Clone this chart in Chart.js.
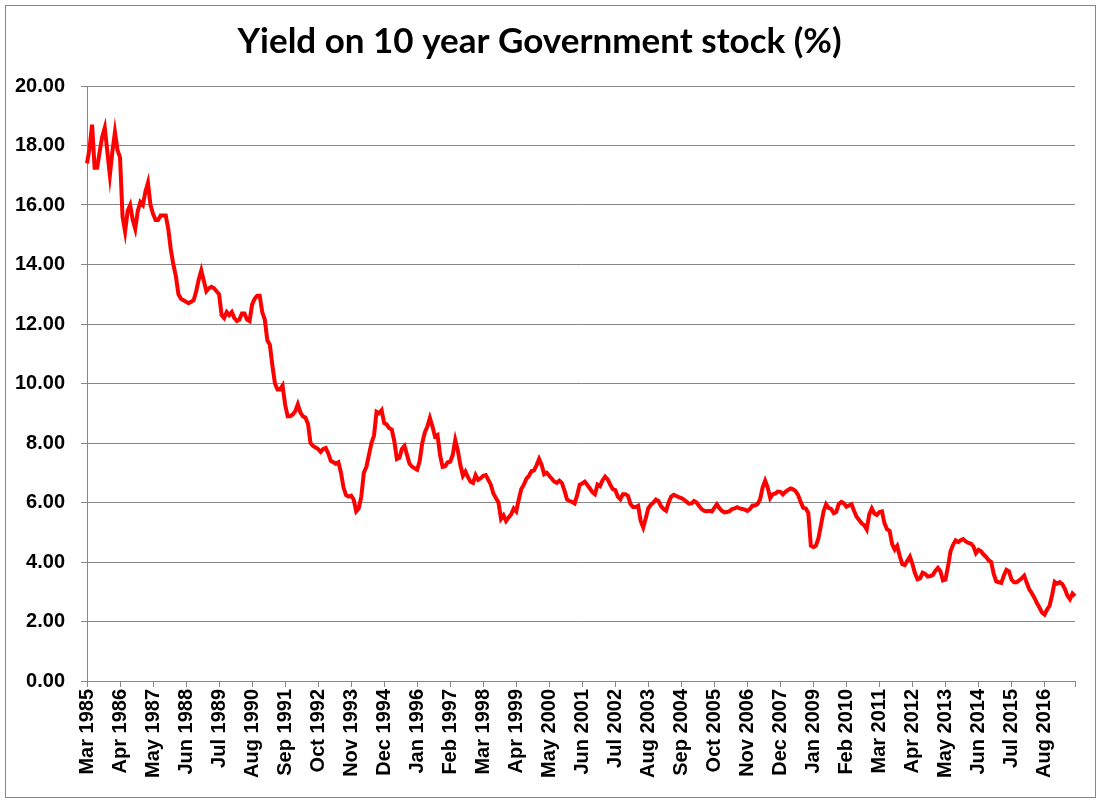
<!DOCTYPE html>
<html>
<head>
<meta charset="utf-8">
<title>Yield on 10 year Government stock (%)</title>
<script src="https://cdn.jsdelivr.net/npm/chart.js@4.4.1/dist/chart.umd.min.js"></script>
<style>
  html, body { margin: 0; padding: 0; background: #fff; }
  #chart { display: block; }
</style>
</head>
<body>
<canvas id="chart" width="1101" height="803"></canvas>
<script>
// Monthly series starting Mar 1985, one value per month
const START_YEAR = 1985;
const START_MONTH = 2; // March, 0-based
const MONTH_NAMES = ['Jan', 'Feb', 'Mar', 'Apr', 'May', 'Jun', 'Jul', 'Aug', 'Sep', 'Oct', 'Nov', 'Dec'];

const yields = [
  17.40, 17.90, 18.70, 17.25, 17.25, 17.80, 18.30, 18.60, 17.80, 17.00, // 0
  17.80, 18.45, 17.85, 17.60, 15.60, 15.10, 15.80, 16.00, 15.50, 15.20, // 10
  15.80, 16.10, 16.00, 16.45, 16.75, 16.00, 15.70, 15.50, 15.50, 15.65, // 20
  15.65, 15.65, 15.20, 14.50, 14.00, 13.60, 13.00, 12.85, 12.80, 12.75, // 30
  12.70, 12.75, 12.80, 13.10, 13.50, 13.80, 13.45, 13.10, 13.20, 13.25, // 40
  13.20, 13.10, 13.00, 12.30, 12.20, 12.40, 12.30, 12.40, 12.20, 12.10, // 50
  12.15, 12.35, 12.35, 12.15, 12.10, 12.65, 12.85, 12.95, 12.95, 12.40, // 60
  12.15, 11.45, 11.30, 10.60, 10.00, 9.80, 9.80, 9.93, 9.30, 8.90,      // 70
  8.90, 8.96, 9.07, 9.30, 9.03, 8.90, 8.85, 8.65, 8.00, 7.90,           // 80
  7.85, 7.80, 7.70, 7.80, 7.83, 7.65, 7.40, 7.35, 7.30, 7.35,           // 90
  7.00, 6.50, 6.25, 6.20, 6.23, 6.10, 5.70, 5.80, 6.20, 7.00,           // 100
  7.20, 7.60, 8.00, 8.25, 9.05, 9.00, 9.10, 8.67, 8.62, 8.50,           // 110
  8.45, 8.06, 7.46, 7.50, 7.80, 7.90, 7.60, 7.30, 7.20, 7.15,           // 120
  7.10, 7.40, 8.00, 8.35, 8.55, 8.84, 8.56, 8.22, 8.27, 7.60,           // 130
  7.20, 7.22, 7.35, 7.37, 7.60, 8.10, 7.75, 7.26, 6.90, 7.04,           // 140
  6.85, 6.70, 6.66, 6.92, 6.76, 6.82, 6.90, 6.92, 6.76, 6.60,           // 150
  6.30, 6.15, 6.00, 5.45, 5.57, 5.38, 5.50, 5.60, 5.80, 5.70,           // 160
  6.10, 6.45, 6.60, 6.80, 6.90, 7.05, 7.08, 7.25, 7.46, 7.26,           // 170
  6.95, 7.00, 6.90, 6.80, 6.70, 6.66, 6.73, 6.65, 6.40, 6.10,           // 180
  6.05, 6.02, 5.97, 6.25, 6.60, 6.64, 6.70, 6.59, 6.47, 6.35,           // 190
  6.28, 6.60, 6.55, 6.75, 6.87, 6.78, 6.60, 6.45, 6.42, 6.20,           // 200
  6.11, 6.28, 6.28, 6.22, 5.95, 5.85, 5.85, 5.89, 5.38, 5.16,           // 210
  5.47, 5.81, 5.92, 6.00, 6.10, 6.05, 5.88, 5.78, 5.72, 6.00,           // 220
  6.20, 6.26, 6.22, 6.18, 6.15, 6.10, 6.03, 5.96, 5.97, 6.05,           // 230
  6.00, 5.88, 5.78, 5.72, 5.71, 5.72, 5.70, 5.82, 5.94, 5.81,           // 240
  5.72, 5.67, 5.68, 5.71, 5.78, 5.80, 5.84, 5.80, 5.78, 5.76,           // 250
  5.72, 5.78, 5.90, 5.90, 5.95, 6.10, 6.50, 6.73, 6.50, 6.15,           // 260
  6.28, 6.30, 6.37, 6.36, 6.27, 6.36, 6.42, 6.47, 6.44, 6.38,           // 270
  6.25, 6.02, 5.82, 5.80, 5.65, 4.55, 4.50, 4.55, 4.80, 5.25,           // 280
  5.70, 5.94, 5.82, 5.78, 5.64, 5.68, 5.95, 6.02, 5.97, 5.86,           // 290
  5.90, 5.94, 5.72, 5.52, 5.41, 5.30, 5.24, 5.10, 5.60, 5.80,           // 300
  5.63, 5.58, 5.68, 5.70, 5.30, 5.10, 5.05, 4.60, 4.42, 4.54,           // 310
  4.20, 3.93, 3.90, 4.04, 4.18, 3.93, 3.62, 3.42, 3.45, 3.64,           // 320
  3.60, 3.51, 3.53, 3.56, 3.70, 3.80, 3.69, 3.38, 3.41, 3.85,           // 330
  4.36, 4.58, 4.73, 4.67, 4.73, 4.77, 4.69, 4.64, 4.62, 4.53,           // 340
  4.30, 4.41, 4.36, 4.25, 4.17, 4.06, 4.00, 3.60, 3.35, 3.32,           // 350
  3.30, 3.55, 3.74, 3.69, 3.41, 3.32, 3.32, 3.38, 3.45, 3.54,           // 360
  3.30, 3.08, 2.95, 2.80, 2.62, 2.47, 2.30, 2.23, 2.40, 2.53,           // 370
  2.90, 3.33, 3.27, 3.32, 3.26, 3.10, 2.87, 2.75, 2.94, 2.85            // 380
];

// category labels "Mar 1985", "Apr 1985", ...
const months = yields.map((_, i) => {
  const m = START_MONTH + i;
  return MONTH_NAMES[m % 12] + ' ' + (START_YEAR + Math.floor(m / 12));
});

const TICK_EVERY = 13;          // Excel showed every 13th month
const Y_MIN = 0, Y_MAX = 20, Y_STEP = 2;

const AXIS_GREY = '#868686';
const LINE_RED = '#ff0000';
const TICK_FONT = { family: '"Liberation Sans", Arial, sans-serif', size: 20, weight: 'bold' };

// white background + thin outer frame like the Excel chart area
const framePlugin = {
  id: 'frame',
  beforeDraw(chart) {
    const ctx = chart.ctx;
    ctx.save();
    ctx.fillStyle = '#fff';
    ctx.fillRect(0, 0, chart.width, chart.height);
    ctx.strokeStyle = AXIS_GREY;
    ctx.lineWidth = 1;
    ctx.strokeRect(5.5, 5.5, chart.width - 11, chart.height - 11);
    ctx.restore();
  }
};

const lastIndex = yields.length - 1;

new Chart(document.getElementById('chart').getContext('2d'), {
  type: 'line',
  data: {
    labels: months,
    datasets: [{
      label: 'Yield',
      data: yields,
      borderColor: LINE_RED,
      borderWidth: 4,
      pointRadius: 0,
      tension: 0,
      fill: false
    }]
  },
  options: {
    responsive: false,
    animation: false,
    devicePixelRatio: 1,
    layout: { padding: { top: 0, left: 0, right: 22, bottom: 0 } },
    plugins: {
      legend: { display: false },
      tooltip: { enabled: false },
      title: {
        display: true,
        text: 'Yield on 10 year Government stock (%)',
        color: '#000',
        font: { family: 'Lato, "Open Sans", sans-serif', size: 35, weight: 'bold', lineHeight: 1.2 },
        padding: { top: 21, bottom: 23 }
      }
    },
    scales: {
      x: {
        type: 'category',
        offset: false,
        afterBuildTicks(scale) {
          scale.ticks = scale.ticks.filter((t) => t.value % TICK_EVERY === 0 || t.value === lastIndex);
        },
        afterFit(scale) { scale.height = 122; },
        ticks: {
          autoSkip: false,
          minRotation: 90,
          maxRotation: 90,
          padding: 2,
          color: '#000',
          font: TICK_FONT,
          callback(value) {
            return value === lastIndex ? '' : this.getLabelForValue(value);
          }
        },
        grid: {
          drawOnChartArea: false,
          drawTicks: true,
          tickLength: 6,
          color: AXIS_GREY,
          tickColor: AXIS_GREY
        },
        border: { display: true, color: AXIS_GREY, width: 1 }
      },
      y: {
        min: Y_MIN,
        max: Y_MAX,
        afterFit(scale) { scale.width = 87; },
        ticks: {
          stepSize: Y_STEP,
          padding: 16,
          color: '#000',
          font: TICK_FONT,
          callback: (v) => Number(v).toFixed(2)
        },
        grid: {
          color: AXIS_GREY,
          tickColor: AXIS_GREY,
          tickLength: 6,
          lineWidth: 1
        },
        border: { display: true, color: AXIS_GREY, width: 1 }
      }
    }
  },
  plugins: [framePlugin]
});
</script>
</body>
</html>
